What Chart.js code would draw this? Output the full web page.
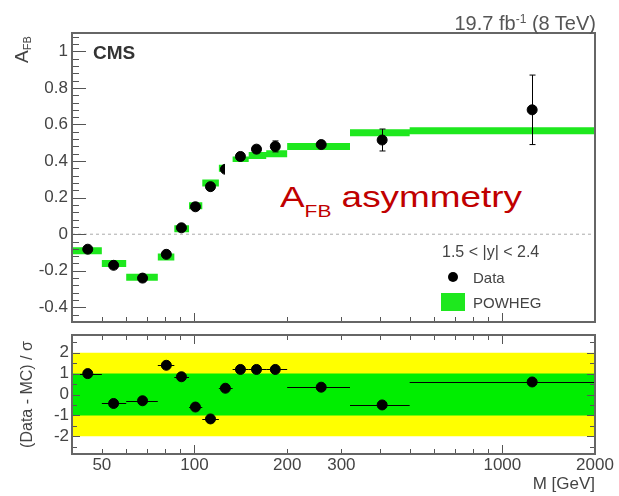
<!DOCTYPE html>
<html>
<head>
<meta charset="utf-8">
<script src="https://cdn.jsdelivr.net/npm/chart.js@4.4.1/dist/chart.umd.min.js"></script>
<style>
body { margin: 0; background: #fff; }
#wrap { position: relative; width: 619px; height: 496px; overflow: hidden; font-family: "Liberation Sans", Arial, sans-serif; color: #444; }
canvas { position: absolute; left: 0; }
.t { position: absolute; line-height: 1; white-space: nowrap; }
</style>
</head>
<body>
<div id="wrap">
  <canvas id="afbChart" width="619" height="340" style="top:0"></canvas>
  <canvas id="pullChart" width="619" height="176" style="top:320px"></canvas>

  <div class="t" style="left:12px; top:63px; font-size:19px; transform-origin:0 0; transform:rotate(-90deg);">A<span style="font-size:11px; position:relative; top:3px;">FB</span></div>
  <div class="t" style="left:93px; top:43px; font-size:19px; font-weight:bold; color:#333;">CMS</div>
  <div class="t" style="right:23px; top:13px; font-size:20px; color:#555;">19.7 fb<span style="font-size:12px; position:relative; top:-7px;">-1</span> (8 TeV)</div>

  <div style="position:absolute; left:225px; top:162px; width:368px; height:68px; background:#fff;">
    <div class="t" style="left:55px; top:20px; font-size:30px; line-height:30px; color:#c00000; transform-origin:0 0; transform:scaleX(1.23);">A<span style="font-size:17px; position:relative; top:10px;">FB</span> asymmetry</div>
  </div>

  <div class="t" style="left:442px; top:244px; font-size:16px; color:#444;">1.5 &lt; |y| &lt; 2.4</div>
  <div style="position:absolute; left:448px; top:272px; width:10px; height:10px; border-radius:50%; background:#000;"></div>
  <div class="t" style="left:473px; top:270px; font-size:15px; color:#444;">Data</div>
  <div style="position:absolute; left:441px; top:293px; width:24px; height:18px; background:#1ee81e;"></div>
  <div class="t" style="left:473px; top:295px; font-size:15px; color:#444;">POWHEG</div>
</div>

<script>
// bin edges in M [GeV]
const binEdges = [40, 50, 60, 76, 86, 96, 106, 120, 133, 150, 171, 200, 320, 500, 2000];
const massPoints = [45, 54.6, 67.8, 81, 90.7, 100.7, 112.7, 126, 141, 159, 183, 258, 407, 1250];
const afbData = [-0.082, -0.17, -0.24, -0.11, 0.035, 0.15, 0.26, 0.355, 0.425, 0.465, 0.48, 0.49, 0.515, 0.68];
const afbErr = [0.012, 0.012, 0.012, 0.012, 0.012, 0.012, 0.012, 0.015, 0.02, 0.02, 0.03, 0.02, 0.06, 0.19];
const afbPowheg = [-0.09, -0.16, -0.235, -0.125, 0.03, 0.155, 0.28, 0.36, 0.405, 0.43, 0.44, 0.48, 0.555, 0.565];
const pullData = [1.0, -0.43, -0.3, 1.4, 0.85, -0.6, -1.17, 0.3, 1.2, 1.2, 1.2, 0.35, -0.5, 0.6];
const afbTicks = [-0.4, -0.2, 0, 0.2, 0.4, 0.6, 0.8, 1];
const pullTicks = [-2, -1, 0, 1, 2];
const massTicks = [50, 100, 200, 300, 1000, 2000];

const tickFont = { family: '"Liberation Sans", Arial, sans-serif', size: 17 };

// ROOT style frame with ticks drawn inside
function frameTicks(cfg) {
  return {
    id: 'frameTicks',
    afterDraw(chart) {
      const { ctx, chartArea: a, scales: { x, y } } = chart;
      ctx.save();
      ctx.strokeStyle = '#555';
      ctx.lineWidth = 1;
      ctx.beginPath();
      for (let k = Math.ceil(y.min / cfg.yStep - 1e-6); k * cfg.yStep <= y.max + 1e-6; k++) {
        const v = k * cfg.yStep;
        const major = cfg.yTicks.some(t => Math.abs(t - v) < 1e-6);
        const len = major ? cfg.yMajor : cfg.yMinor;
        const py = Math.round(y.getPixelForValue(v)) + 0.5;
        ctx.moveTo(a.left, py); ctx.lineTo(a.left + len, py);
        if (cfg.right) { ctx.moveTo(a.right, py); ctx.lineTo(a.right - len, py); }
      }
      for (let dec = 10; dec <= 1000; dec *= 10) {
        for (let m = 1; m <= 9; m++) {
          const v = dec * m;
          if (v < x.min || v > x.max) continue;
          const len = m === 1 ? cfg.xMajor : cfg.xMinor;
          const px = Math.round(x.getPixelForValue(v)) + 0.5;
          ctx.moveTo(px, a.bottom); ctx.lineTo(px, a.bottom - len);
          if (cfg.top) { ctx.moveTo(px, a.top); ctx.lineTo(px, a.top + len); }
        }
      }
      ctx.stroke();
      ctx.lineWidth = 2;
      ctx.strokeStyle = '#666';
      ctx.strokeRect(a.left, a.top, a.right - a.left, a.bottom - a.top);
      ctx.restore();
    }
  };
}

function errorBars(values, errors, horizontal) {
  return {
    id: 'errorBars',
    afterDatasetsDraw(chart) {
      const { ctx, scales: { x, y } } = chart;
      ctx.save();
      ctx.strokeStyle = '#000';
      ctx.lineWidth = 1;
      ctx.beginPath();
      massPoints.forEach((m, i) => {
        const px = Math.round(x.getPixelForValue(m)) + 0.5;
        const py = Math.round(y.getPixelForValue(values[i])) + 0.5;
        if (errors) {
          const y1 = y.getPixelForValue(values[i] - errors[i]);
          const y2 = y.getPixelForValue(values[i] + errors[i]);
          ctx.moveTo(px, y1); ctx.lineTo(px, y2);
          ctx.moveTo(px - 3, y1); ctx.lineTo(px + 3, y1);
          ctx.moveTo(px - 3, y2); ctx.lineTo(px + 3, y2);
        }
        if (horizontal) {
          ctx.moveTo(x.getPixelForValue(binEdges[i]), py);
          ctx.lineTo(x.getPixelForValue(binEdges[i + 1]), py);
        }
      });
      ctx.stroke();
      ctx.restore();
    }
  };
}

let powhegSegments = [];
for (let i = 0; i < afbPowheg.length; i++) {
  powhegSegments.push({ x: binEdges[i], y: afbPowheg[i] });
  powhegSegments.push({ x: binEdges[i + 1], y: afbPowheg[i] });
  powhegSegments.push({ x: binEdges[i + 1], y: null });
}

new Chart(document.getElementById('afbChart'), {
  type: 'scatter',
  data: {
    datasets: [
      {
        label: 'Data',
        data: massPoints.map((m, i) => ({ x: m, y: afbData[i] })),
        backgroundColor: '#000', borderColor: '#000',
        pointRadius: 5, pointHoverRadius: 5
      },
      {
        type: 'line', label: 'POWHEG', data: powhegSegments,
        borderColor: '#1ee81e', borderWidth: 7, pointRadius: 0, spanGaps: false, fill: false
      },
      {
        type: 'line', label: 'zero', data: [{ x: 40, y: 0 }, { x: 2000, y: 0 }],
        borderColor: '#aaa', borderWidth: 1, borderDash: [3, 3], pointRadius: 0, fill: false
      }
    ]
  },
  options: {
    responsive: false, animation: false, devicePixelRatio: 1,
    layout: { padding: { top: 33, right: 24, bottom: 18, left: 0 } },
    plugins: { legend: { display: false }, tooltip: { enabled: false } },
    scales: {
      x: { type: 'logarithmic', min: 40, max: 2000, display: false },
      y: {
        min: -0.48, max: 1.1,
        afterFit: s => { s.width = 72; },
        afterBuildTicks: s => { s.ticks = afbTicks.map(v => ({ value: v })); },
        grid: { display: false, drawTicks: false }, border: { display: false },
        ticks: { padding: 4, color: '#444', font: tickFont, callback: v => String(v) }
      }
    }
  },
  plugins: [
    frameTicks({ yStep: 0.04, yTicks: afbTicks, yMajor: 14, yMinor: 7, xMajor: 9, xMinor: 5, right: false, top: false }),
    errorBars(afbData, afbErr, false)
  ]
});

new Chart(document.getElementById('pullChart'), {
  type: 'scatter',
  data: {
    datasets: [
      {
        label: 'Data',
        data: massPoints.map((m, i) => ({ x: m, y: pullData[i] })),
        backgroundColor: '#000', borderColor: '#000',
        pointRadius: 5, pointHoverRadius: 5
      },
      {
        type: 'line', label: '1 sigma', data: [{ x: 40, y: 1 }, { x: 2000, y: 1 }],
        borderWidth: 0, pointRadius: 0, backgroundColor: '#00ee00', fill: { value: -1 }
      },
      {
        type: 'line', label: '2 sigma', data: [{ x: 40, y: 2 }, { x: 2000, y: 2 }],
        borderWidth: 0, pointRadius: 0, backgroundColor: '#ffff00', fill: { value: -2 }
      }
    ]
  },
  options: {
    responsive: false, animation: false, devicePixelRatio: 1,
    layout: { padding: { top: 15, right: 24, bottom: 0, left: 0 } },
    plugins: { legend: { display: false }, tooltip: { enabled: false } },
    scales: {
      x: {
        type: 'logarithmic', min: 40, max: 2000,
        afterFit: s => { s.height = 42; },
        afterBuildTicks: s => { s.ticks = massTicks.map(v => ({ value: v })); },
        grid: { display: false, drawTicks: false }, border: { display: false },
        ticks: { padding: 1, color: '#444', font: tickFont, maxRotation: 0, autoSkip: false, callback: v => String(v) },
        title: { display: true, text: 'M [GeV]', align: 'end', color: '#444', font: tickFont, padding: { top: 0, bottom: 1 } }
      },
      y: {
        min: -2.85, max: 2.85,
        afterFit: s => { s.width = 72; },
        afterBuildTicks: s => { s.ticks = pullTicks.map(v => ({ value: v })); },
        grid: { display: false, drawTicks: false }, border: { display: false },
        ticks: { padding: 3, color: '#444', font: tickFont, callback: v => String(v) },
        title: { display: true, text: '(Data - MC) / σ', color: '#444', font: { family: tickFont.family, size: 16 }, padding: { top: 18, bottom: 0 } }
      }
    }
  },
  plugins: [
    frameTicks({ yStep: 0.5, yTicks: pullTicks, yMajor: 8, yMinor: 5, xMajor: 9, xMinor: 5, right: true, top: true }),
    errorBars(pullData, null, true)
  ]
});
</script>
</body>
</html>
